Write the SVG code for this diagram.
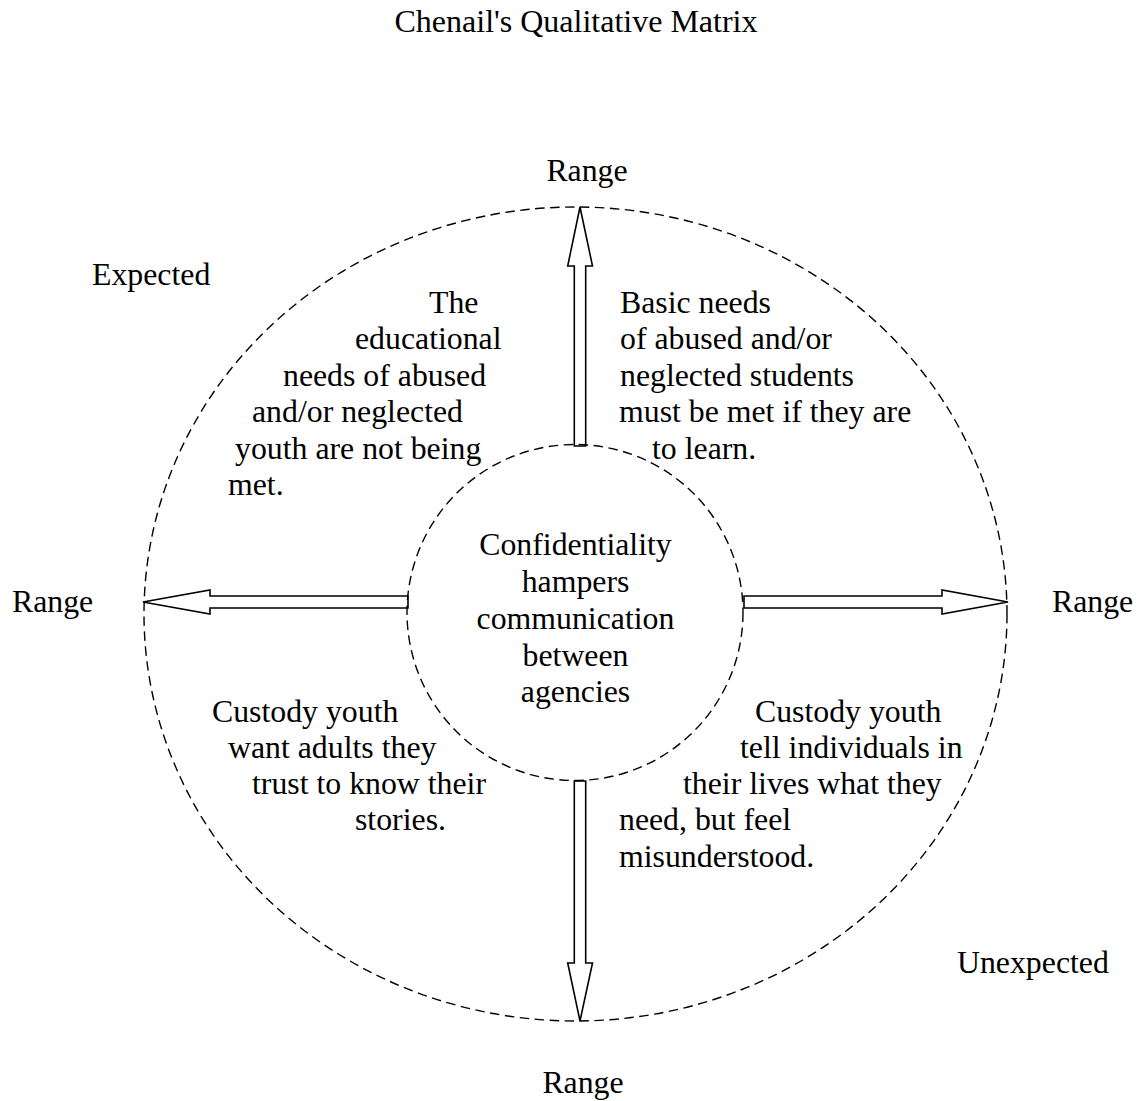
<svg xmlns="http://www.w3.org/2000/svg" width="1144" height="1101" viewBox="0 0 1144 1101">
  <style>
    text { font-family: "Liberation Serif", "Times New Roman", serif; font-size: 31.8px; fill: #000; }
    .mid { text-anchor: middle; }
    .title { font-size: 32px; }
    .ring { fill: none; stroke: #000; stroke-width: 1.4; stroke-dasharray: 9.5 5.5; }
    .arrow { fill: #fff; stroke: #000; stroke-width: 1.6; stroke-linejoin: miter; }
  </style>
  <rect width="1144" height="1101" fill="#fff"/>

  <text id="title" class="mid title" x="576" y="32">Chenail's Qualitative Matrix</text>

  <!-- outer boundary of the matrix -->
  <g id="outer-ring">
    <ellipse class="ring" cx="575.5" cy="614" rx="431.5" ry="407"/>
  </g>

  <!-- range arrows from the core out to the boundary -->
  <g id="connectors">
    <polygon class="arrow" points="574.3,446 574.3,266 567.7,266 580,207 592.5,266 585.7,266 585.7,446"/>
    <polygon class="arrow" points="574.3,781 574.3,963 567.7,963 580,1021 592.5,963 585.7,963 585.7,781"/>
    <polygon class="arrow" points="408,596 210,596 210,590 143,602 210,614 210,608 408,608"/>
    <polygon class="arrow" points="744,596 942,596 942,590 1008,602 942,614 942,608 744,608"/>
  </g>

  <!-- core theme -->
  <g id="core">
    <circle class="ring" cx="575" cy="612.5" r="168"/>
    <text class="mid" x="575.5" y="555">Confidentiality</text>
    <text class="mid" x="575.5" y="592">hampers</text>
    <text class="mid" x="575.5" y="629">communication</text>
    <text class="mid" x="575.5" y="666">between</text>
    <text class="mid" x="575.5" y="702">agencies</text>
  </g>

  <!-- quadrant themes -->
  <g id="upper-left">
    <text x="429" y="313">The</text>
    <text x="355" y="349">educational</text>
    <text x="283" y="386">needs of abused</text>
    <text x="252" y="422">and/or neglected</text>
    <text x="235" y="459">youth are not being</text>
    <text x="228" y="495">met.</text>
  </g>

  <g id="upper-right">
    <text x="620" y="313">Basic needs</text>
    <text x="620" y="349">of abused and/or</text>
    <text x="620" y="386">neglected students</text>
    <text x="619" y="422">must be met if they are</text>
    <text x="652" y="459">to learn.</text>
  </g>

  <g id="lower-left">
    <text x="212" y="722">Custody youth</text>
    <text x="228" y="758">want adults they</text>
    <text x="252" y="794">trust to know their</text>
    <text x="355" y="830">stories.</text>
  </g>

  <g id="lower-right">
    <text x="755" y="722">Custody youth</text>
    <text x="740" y="758">tell individuals in</text>
    <text x="683" y="794">their lives what they</text>
    <text x="619" y="830">need, but feel</text>
    <text x="619" y="867">misunderstood.</text>
  </g>

  <!-- axis labels -->
  <g id="labels">
    <text class="mid" x="587" y="181">Range</text>
    <text class="mid" x="583" y="1093">Range</text>
    <text x="12" y="612">Range</text>
    <text x="1052" y="612">Range</text>
    <text x="92" y="285">Expected</text>
    <text x="957" y="973">Unexpected</text>
  </g>
</svg>
